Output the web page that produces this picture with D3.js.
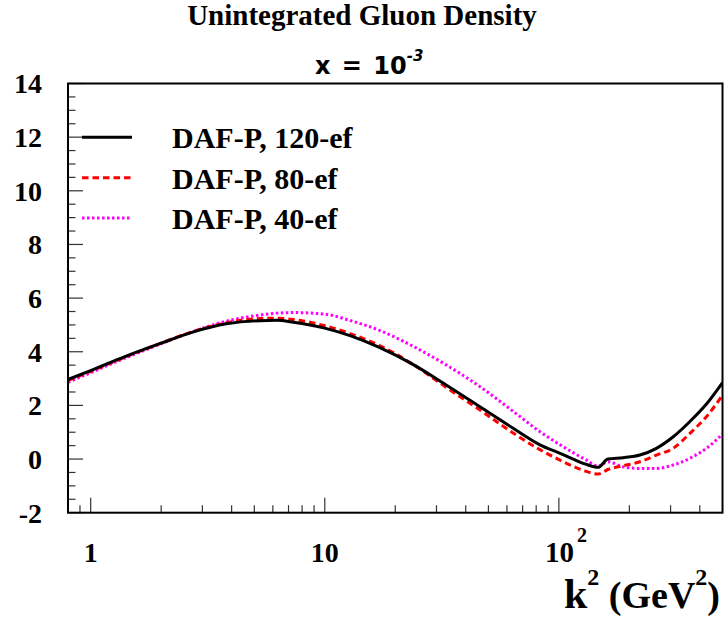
<!DOCTYPE html>
<html>
<head>
<meta charset="utf-8">
<title>Unintegrated Gluon Density</title>
<script src="https://d3js.org/d3.v7.min.js"></script>
<style>
  body { margin: 0; background: #fff; }
  text { font-family: "Liberation Serif", "Times New Roman", serif; font-weight: bold; }
</style>
</head>
<body>
<div id="chart"></div>
<script>
// k^2 grid (GeV^2) shared by the three curves
var k2 = [0.8, 1, 1.4, 2, 2.75, 3.8, 5.3, 6.25, 7.35, 10, 13, 17, 24, 33, 46, 64, 83, 100, 115, 130, 147, 162, 188, 222, 261, 308, 363, 427, 500];

var ef120 = [2.97, 3.30, 3.82, 4.32, 4.74, 5.04, 5.16, 5.17, 5.10, 4.88, 4.58, 4.17, 3.51, 2.76, 1.95, 1.14, 0.53, 0.23, 0.00, -0.19, -0.31, 0.00, 0.05, 0.15, 0.40, 0.83, 1.40, 2.05, 2.85];
var ef80  = [2.93, 3.27, 3.80, 4.32, 4.76, 5.08, 5.24, 5.25, 5.20, 4.97, 4.66, 4.25, 3.51, 2.67, 1.83, 0.96, 0.35, -0.02, -0.27, -0.45, -0.56, -0.39, -0.25, -0.10, 0.15, 0.40, 0.96, 1.58, 2.38];
var ef40  = [2.86, 3.22, 3.76, 4.30, 4.76, 5.14, 5.37, 5.44, 5.46, 5.40, 5.15, 4.81, 4.19, 3.51, 2.70, 1.77, 1.02, 0.56, 0.24, -0.02, -0.26, -0.10, -0.29, -0.35, -0.35, -0.22, 0.03, 0.40, 0.93];

var seriesNames = ["DAF-P, 120-ef", "DAF-P, 80-ef", "DAF-P, 40-ef"];
var seriesColors = ["#000000", "#ff0000", "#ff00ff"];
var seriesDash = [null, "6.5,4", "2.5,2.5"];

var yMajor = [-2, 0, 2, 4, 6, 8, 10, 12, 14];
var xMajor = [1, 10, 100];
var xMinor = [0.9, 2, 3, 4, 5, 6, 7, 8, 9, 20, 30, 40, 50, 60, 70, 80, 90, 200, 300, 400];

var W = 724, H = 617;
var L = 68, R = 722.5, T = 83.5, B = 512.7;

var svg = d3.select("#chart").append("svg")
  .attr("width", W).attr("height", H);

var x = d3.scaleLog().domain([0.8, 500]).range([L, R]);
var y = d3.scaleLinear().domain([-2, 14]).range([B, T]);

// titles
svg.append("text")
  .attr("x", 362).attr("y", 25)
  .attr("text-anchor", "middle")
  .attr("font-size", "29px")
  .text("Unintegrated Gluon Density");

var sub = svg.append("text")
  .attr("x", 315).attr("y", 74)
  .style("font-family", "'DejaVu Sans', sans-serif")
  .style("font-weight", "bold")
  .attr("font-size", "24px")
  .attr("word-spacing", "3px");
sub.append("tspan").text("x = 10");
sub.append("tspan").attr("dy", -13).attr("font-size", "15px").attr("font-style", "italic").text("-3");

// clip for curves
svg.append("clipPath").attr("id", "clip")
  .append("rect").attr("x", L).attr("y", T).attr("width", R - L).attr("height", B - T);

// y ticks
var yTicks = d3.range(-2, 14.001, 0.5);
svg.append("g").selectAll("line")
  .data(yTicks)
  .enter().append("line")
    .attr("x1", L)
    .attr("x2", function(d){ return yMajor.indexOf(d) >= 0 ? L + 15 : L + 7.5; })
    .attr("y1", function(d){ return y(d); })
    .attr("y2", function(d){ return y(d); })
    .attr("stroke", "#333").attr("stroke-width", 1.2);

svg.append("g").selectAll("text")
  .data(yMajor)
  .enter().append("text")
    .attr("x", 42)
    .attr("y", function(d){ return y(d); })
    .attr("dy", "0.35em")
    .attr("text-anchor", "end")
    .attr("font-size", "28px")
    .text(function(d){ return d; });

// x ticks
svg.append("g").selectAll("line")
  .data(xMajor.concat(xMinor))
  .enter().append("line")
    .attr("x1", function(d){ return x(d); })
    .attr("x2", function(d){ return x(d); })
    .attr("y1", B)
    .attr("y2", function(d){ return xMajor.indexOf(d) >= 0 ? B - 15 : B - 7.5; })
    .attr("stroke", "#333").attr("stroke-width", 1.2);

svg.append("text").attr("x", x(1)).attr("y", 561.5)
  .attr("text-anchor", "middle").attr("font-size", "28px").text("1");
svg.append("text").attr("x", x(10)).attr("y", 561.5)
  .attr("text-anchor", "middle").attr("font-size", "28px").text("10");
var t100 = svg.append("text").attr("x", x(100) - 14).attr("y", 561.5)
  .attr("font-size", "29px");
t100.append("tspan").text("10");
t100.append("tspan").attr("dx", 3).attr("dy", -20).attr("font-size", "20px").text("2");

// axis title
var xt = svg.append("text").attr("x", 720).attr("y", 608)
  .attr("text-anchor", "end").attr("font-size", "38px");
xt.append("tspan").attr("font-size", "42px").text("k");
xt.append("tspan").attr("dy", -23).attr("font-size", "24px").text("2");
xt.append("tspan").attr("dy", 23).text(" (GeV");
xt.append("tspan").attr("dy", -23).attr("font-size", "24px").text("2");
xt.append("tspan").attr("dy", 23).text(")");

// curves
var line = d3.line()
  .x(function(d){ return x(d[0]); })
  .y(function(d){ return y(d[1]); })
  .curve(d3.curveMonotoneX);

var allSeries = [ef120, ef80, ef40];
var g = svg.append("g").attr("clip-path", "url(#clip)");
allSeries.slice().reverse().forEach(function(vals, j){
  var i = allSeries.length - 1 - j;
  g.append("path")
    .datum(k2.map(function(k, n){ return [k, vals[n]]; }))
    .attr("d", line)
    .attr("fill", "none")
    .attr("stroke", seriesColors[i])
    .attr("stroke-width", 3)
    .attr("stroke-dasharray", seriesDash[i]);
});

// legend
var legY = [137.3, 177.7, 218];
seriesNames.forEach(function(name, i){
  svg.append("line")
    .attr("x1", 82).attr("x2", 132)
    .attr("y1", legY[i]).attr("y2", legY[i])
    .attr("stroke", seriesColors[i])
    .attr("stroke-width", 3)
    .attr("stroke-dasharray", seriesDash[i]);
  svg.append("text")
    .attr("x", 172).attr("y", legY[i] + 11)
    .attr("font-size", "30px")
    .text(name);
});

// frame
svg.append("rect")
  .attr("x", L).attr("y", T).attr("width", R - L).attr("height", B - T)
  .attr("fill", "none").attr("stroke", "#000").attr("stroke-width", 2);
</script>
</body>
</html>
